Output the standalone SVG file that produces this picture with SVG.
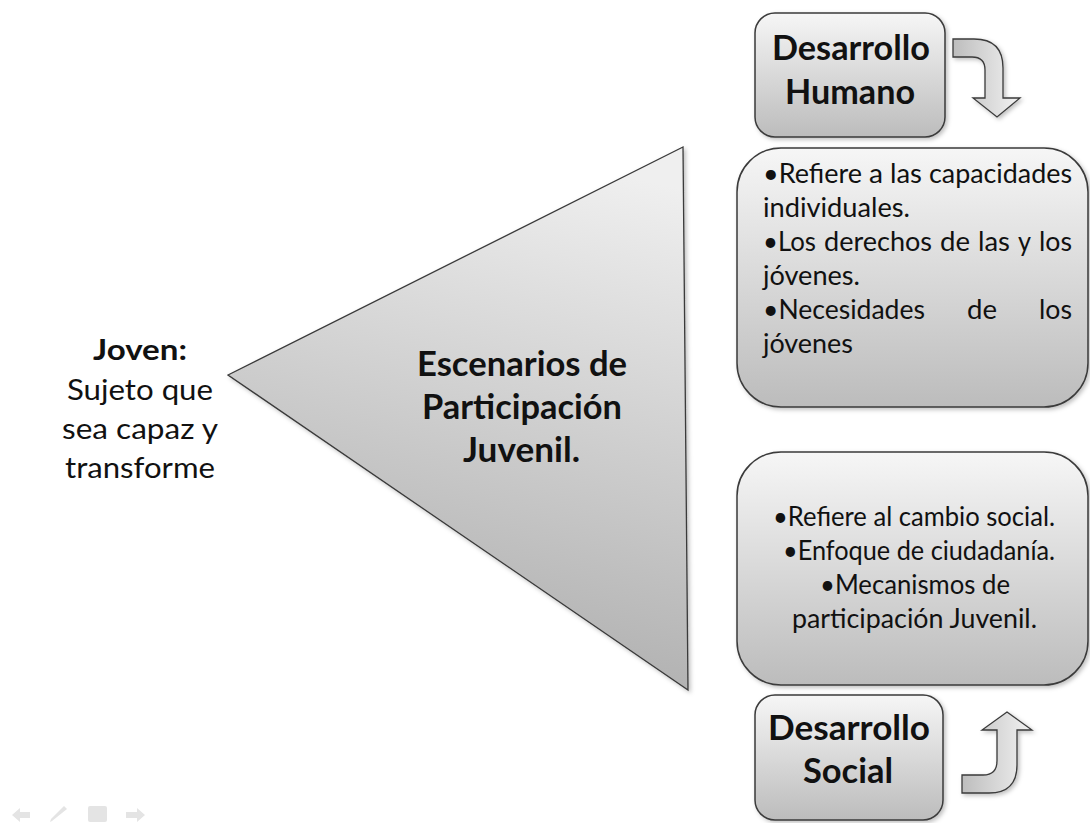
<svg xmlns="http://www.w3.org/2000/svg" width="1090" height="823" viewBox="0 0 1090 823">
  <style>
    .box { stroke: #3a3a3a; stroke-width: 1.5; fill: url(#gBox); filter: url(#sh); }
    .arr { stroke: #3a3a3a; stroke-width: 1.3; fill: url(#gArr); filter: url(#sh); stroke-linejoin: miter; }
    .t { font-family: Lato, "Liberation Sans", sans-serif; fill: #111; }
    .b { font-weight: bold; }
    .nav { fill: #e4e4e4; }
  </style>
  <defs>
    <linearGradient id="gBox" x1="0" y1="0" x2="0" y2="1">
      <stop offset="0" stop-color="#f6f6f6"/>
      <stop offset="1" stop-color="#bcbcbc"/>
    </linearGradient>
    <linearGradient id="gTri" x1="0.6" y1="0" x2="0.4" y2="1">
      <stop offset="0" stop-color="#efefef"/>
      <stop offset="1" stop-color="#ababab"/>
    </linearGradient>
    <linearGradient id="gArr" x1="0" y1="0" x2="1" y2="0">
      <stop offset="0" stop-color="#bdbdbd"/>
      <stop offset="1" stop-color="#f2f2f2"/>
    </linearGradient>
    <filter id="sh" x="-10%" y="-10%" width="125%" height="125%">
      <feDropShadow dx="2" dy="2" stdDeviation="2" flood-color="#000" flood-opacity="0.25"/>
    </filter>
  </defs>
  <rect width="1090" height="823" fill="#ffffff"/>

  <g id="triangle">
    <polygon points="683,147 228,375 688,690" fill="url(#gTri)" stroke="#3a3a3a" stroke-width="1.3" filter="url(#sh)"/>
    <g class="t b" font-size="34">
      <text x="417" y="376" textLength="210" lengthAdjust="spacingAndGlyphs">Escenarios de</text>
      <text x="422" y="419" textLength="200" lengthAdjust="spacingAndGlyphs">Participación</text>
      <text x="463" y="462" textLength="117" lengthAdjust="spacingAndGlyphs">Juvenil.</text>
    </g>
  </g>

  <g id="joven" class="t" font-size="29">
    <text class="b" x="93" y="360" textLength="94" lengthAdjust="spacingAndGlyphs">Joven:</text>
    <text x="67" y="400" textLength="146" lengthAdjust="spacingAndGlyphs">Sujeto que</text>
    <text x="62" y="439" textLength="156" lengthAdjust="spacingAndGlyphs">sea capaz y</text>
    <text x="65" y="478" textLength="150" lengthAdjust="spacingAndGlyphs">transforme</text>
  </g>

  <g id="desarrollo-humano">
    <rect class="box" x="755" y="13" width="190" height="124" rx="20"/>
    <text class="t b" font-size="34" x="772" y="60" textLength="158" lengthAdjust="spacingAndGlyphs">Desarrollo</text>
    <text class="t b" font-size="34" x="785" y="104" textLength="130" lengthAdjust="spacingAndGlyphs">Humano</text>
  </g>

  <g id="humano-detalle">
    <rect class="box" x="737" y="148" width="351" height="259" rx="44"/>
    <g class="t" font-size="26">
      <text x="763" y="183" textLength="99" lengthAdjust="spacingAndGlyphs">•Refiere</text>
      <text x="869" y="183" textLength="14" lengthAdjust="spacingAndGlyphs">a</text>
      <text x="890" y="183" textLength="32" lengthAdjust="spacingAndGlyphs">las</text>
      <text x="929" y="183" textLength="143" lengthAdjust="spacingAndGlyphs">capacidades</text>
      <text x="763" y="217" textLength="147" lengthAdjust="spacingAndGlyphs">individuales.</text>
      <text x="763" y="251" textLength="53" lengthAdjust="spacingAndGlyphs">•Los</text>
      <text x="824" y="251" textLength="108" lengthAdjust="spacingAndGlyphs">derechos</text>
      <text x="940" y="251" textLength="30" lengthAdjust="spacingAndGlyphs">de</text>
      <text x="978" y="251" textLength="32" lengthAdjust="spacingAndGlyphs">las</text>
      <text x="1018" y="251" textLength="13" lengthAdjust="spacingAndGlyphs">y</text>
      <text x="1039" y="251" textLength="33" lengthAdjust="spacingAndGlyphs">los</text>
      <text x="763" y="285" textLength="97" lengthAdjust="spacingAndGlyphs">jóvenes.</text>
      <text x="763" y="319" textLength="162" lengthAdjust="spacingAndGlyphs">•Necesidades</text>
      <text x="967" y="319" textLength="30" lengthAdjust="spacingAndGlyphs">de</text>
      <text x="1039" y="319" textLength="33" lengthAdjust="spacingAndGlyphs">los</text>
      <text x="763" y="353" textLength="90" lengthAdjust="spacingAndGlyphs">jóvenes</text>
    </g>
  </g>

  <g id="social-detalle">
    <rect class="box" x="737" y="452" width="351" height="233" rx="44"/>
    <g class="t" font-size="26">
      <text x="773" y="526" textLength="282" lengthAdjust="spacingAndGlyphs">•Refiere al cambio social.</text>
      <text x="783" y="560" textLength="272" lengthAdjust="spacingAndGlyphs">•Enfoque de ciudadanía.</text>
      <text x="820" y="594" textLength="190" lengthAdjust="spacingAndGlyphs">•Mecanismos de</text>
      <text x="792" y="628" textLength="245" lengthAdjust="spacingAndGlyphs">participación Juvenil.</text>
    </g>
  </g>

  <g id="desarrollo-social">
    <rect class="box" x="755" y="695" width="188" height="125" rx="20"/>
    <text class="t b" font-size="34" x="768" y="740" textLength="162" lengthAdjust="spacingAndGlyphs">Desarrollo</text>
    <text class="t b" font-size="34" x="803" y="783" textLength="90" lengthAdjust="spacingAndGlyphs">Social</text>
  </g>

  <g id="connectors">
    <path class="arr" d="M953,39 L974,39 Q1003,39 1003,68 L1003,98 L1020,98 L997,117 L973,98 L985,98 L985,70 Q985,57 972,57 L953,57 Z"/>
    <path class="arr" d="M962,775 L983,775 Q997,775 997,761 L997,730 L982,730 L1007,712 L1032,730 L1017,730 L1017,765 Q1017,793 989,793 L962,793 Z"/>
  </g>

  <g id="nav" class="nav">
    <polygon points="12,815 20,808 20,812 30,812 30,818 20,818 20,822"/>
    <polygon points="52,821 50,822 51,819 64,806 67,809"/>
    <rect x="88" y="806" width="19" height="16" rx="2"/>
    <polygon points="145,815 137,808 137,812 126,812 126,818 137,818 137,822"/>
  </g>
</svg>
